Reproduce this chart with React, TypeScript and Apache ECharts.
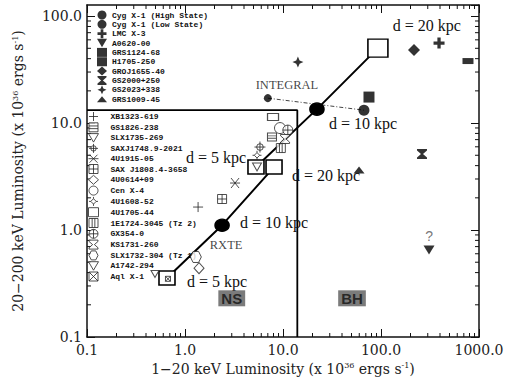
import React, { useEffect, useRef } from 'react';
import * as echarts from 'echarts';

// ---- Data ----
// Black-hole candidates (filled symbols)
const bhNames = ['Cyg X-1 (High State)', 'Cyg X-1 (Low State)', 'LMC X-3', 'A0620-00', 'GRS1124-68', 'H1705-250', 'GROJ1655-40', 'GS2000+250', 'GS2023+338', 'GRS1009-45'];
const bhLx = [67, 7.0, 391, 309, 772, 75.4, 217, 262, 14.2, 59.7];
const bhLy = [13.2, 17.1, 56, 0.65, 38, 17.5, 48.1, 5.13, 37.2, 3.64];
const uncertainSources = ['A0620-00'];

// Neutron stars (open symbols)
const nsNames = ['XB1323-619', 'GS1826-238', 'SLX1735-269', 'SAXJ1748.9-2021', '4U1915-05', 'SAX J1808.4-3658', '4U0614+09', 'Cen X-4', '4U1608-52', '4U1705-44', '1E1724-3045 (Tz 2)', 'GX354-0', 'KS1731-260', 'SLX1732-304 (Tz 1)', 'A1742-294', 'Aql X-1'];
const nsLx = [1.36, 7.72, 5.43, 5.82, 3.24, 2.39, 1.39, 9.32, 5.43, 7.91, 9.5, 11.2, 10.5, 1.29, 0.494, 0.67];
const nsLy = [1.64, 7.4, 3.88, 5.97, 2.75, 1.95, 0.44, 8.98, 5.0, 11.4, 5.84, 8.6, 7.1, 0.56, 0.388, 0.35];

// Distance tracks of the new source
const distances = ['d = 5 kpc', 'd = 10 kpc', 'd = 20 kpc'];
const instruments = ['RXTE', 'INTEGRAL'];
const rxteLx = [0.655, 2.39, 8.1];
const rxteLy = [0.356, 1.11, 3.88];
const integralLx = [5.3, 22.2, 93];
const integralLy = [3.88, 13.5, 50.2];

// Region boundary (NS / BH)
const boundaryLx = [0.1, 14, 14];
const boundaryLy = [13.2, 13.2, 0.1];
const regionNames = ['NS', 'BH'];
const regionLx = [3.0, 50.6];
const regionLy = [0.23, 0.23];

// Axes
const xMin = 0.1, xMax = 1000, yMin = 0.1, yMax = 127;
const xDecades = [0.1, 1, 10, 100];
const yDecades = [0.1, 1, 10];
const minorSteps = [2, 3, 4, 5, 6, 7, 8, 9];

// ---- Symbols (styling) ----
const P = {
  lmc: 'path://M7,0H13V7H20V13H13V20H7V13H0V7H7Z',
  triDown: 'path://M0,0L20,0L10,17Z',
  hourglass: 'path://M0,0H20V3L12,10L20,17V20H0V17L8,10L0,3Z',
  star4: 'path://M10,0L13,7L20,10L13,13L10,20L7,13L0,10L7,7Z',
  triUp: 'path://M0,12L10,0L20,12Z',
  plus: 'path://M10,0V20M0,10H20',
  boxH: 'path://M0,0H20V20H0ZM0,7H20M0,13H20',
  sun: 'path://M4,10A6,6 0 1 1 16,10A6,6 0 1 1 4,10ZM10,4V16M4,10H16M10,0V4M10,16V20M0,10H4M16,10H20',
  asterisk: 'path://M2,2L18,18M18,2L2,18M0,10H20',
  boxPlus: 'path://M0,0H20V20H0ZM10,0V20M0,10H20',
  diamondTick: 'path://M10,4L16,10L10,16L4,10ZM0,10H4M16,10H20M10,0V4M10,16V20',
  boxV: 'path://M0,0H20V20H0ZM7,0V20M13,0V20',
  circPlus: 'path://M0,10A10,10 0 1 1 20,10A10,10 0 1 1 0,10ZM0,10H20M10,0V20',
  hexagon: 'path://M5,0H15L20,10L15,20H5L0,10Z',
  boxX: 'path://M0,0H20V20H0ZM0,0L20,20M20,0L0,20',
};

const bhSym: { s: string; z: number | number[] }[] = [
  { s: 'circle', z: 11 },
  { s: 'circle', z: 8 },
  { s: P.lmc, z: 11 },
  { s: P.triDown, z: [11, 9] },
  { s: 'rect', z: [11, 6] },
  { s: 'rect', z: 11 },
  { s: 'diamond', z: [12, 12] },
  { s: P.hourglass, z: [10, 10] },
  { s: P.star4, z: 11 },
  { s: P.triUp, z: [11, 7] },
];
const nsSym: { s: string; z: number | number[] }[] = [
  { s: P.plus, z: 10 },
  { s: P.boxH, z: [9, 8] },
  { s: P.triDown, z: [9, 8] },
  { s: P.sun, z: 11 },
  { s: P.asterisk, z: 10 },
  { s: P.boxPlus, z: 9 },
  { s: 'diamond', z: [10, 11] },
  { s: 'circle', z: 11 },
  { s: P.diamondTick, z: 9 },
  { s: 'rect', z: [11, 7] },
  { s: P.boxV, z: 9 },
  { s: P.circPlus, z: 10 },
  { s: P.hourglass, z: 9 },
  { s: P.hexagon, z: 11 },
  { s: P.triDown, z: [8, 7] },
  { s: P.boxX, z: 5 },
];

const serif = 'DejaVu Serif';
const fmt = (v: number) => Number(v).toFixed(1);

export default function App() {
  const ref = useRef<HTMLDivElement>(null);
  useEffect(() => {
    if (!ref.current) return;
    const chart = echarts.init(ref.current, undefined, { renderer: 'svg' });

    const minorX: number[] = [];
    xDecades.forEach((d) => minorSteps.forEach((m) => minorX.push(+(d * m).toPrecision(3))));
    const minorY: number[] = [];
    yDecades.forEach((d) => minorSteps.forEach((m) => minorY.push(+(d * m).toPrecision(3))));

    const axisLine = { show: true, lineStyle: { color: '#111', width: 1.5 } };
    const axisTick = { show: true, inside: true, length: 8, lineStyle: { color: '#111', width: 1 } };
    const nameRich = {
      sup: { fontFamily: serif, fontSize: 8, verticalAlign: 'top', color: '#222' },
    };

    const labelFont = { fontFamily: 'Liberation Serif', fontSize: 16, color: '#111' };
    const distOffsetsRxte = [[50, 3], [52, -3], [52, 8]];
    const distOffsetsInt = [[-40, -10], [46, 14], [49, -23]];
    const trackSyms = [
      { symbol: 'rect', size: [16, 14], fill: '#fff' },
      { symbol: 'circle', size: [14, 12], fill: '#000' },
      { symbol: 'rect', size: [16, 14], fill: '#fff' },
    ];
    const bigSquare = [20, 18];

    const trackSeries = (name: string, xs: number[], ys: number[], offs: number[][], last: number[]) => ({
      type: 'line',
      name,
      z: 4,
      data: xs.map((x, i) => ({
        value: [x, ys[i]],
        symbol: trackSyms[i].symbol,
        symbolSize: i === 2 ? last : trackSyms[i].size,
        itemStyle: { color: trackSyms[i].fill, borderColor: '#000', borderWidth: 1.5 },
        label: { show: true, position: 'inside', offset: offs[i], formatter: distances[i], ...labelFont },
      })),
      lineStyle: { color: '#000', width: 2 },
      silent: true,
    });

    const series: any[] = [
      {
        type: 'custom',
        name: 'minor ticks',
        silent: true,
        clip: false,
        z: 1,
        data: [[1, 1]],
        renderItem: (params: any, api: any) => {
          const cs = params.coordSys;
          const top = cs.y, bottom = cs.y + cs.height, left = cs.x, right = cs.x + cs.width;
          const L = 4;
          const st = { stroke: '#111', lineWidth: 1 };
          const children: any[] = [];
          minorX.forEach((v) => {
            const px = api.coord([v, 1])[0];
            children.push({ type: 'line', shape: { x1: px, y1: bottom, x2: px, y2: bottom - L }, style: st });
            children.push({ type: 'line', shape: { x1: px, y1: top, x2: px, y2: top + L }, style: st });
          });
          minorY.forEach((v) => {
            const py = api.coord([1, v])[1];
            children.push({ type: 'line', shape: { x1: left, y1: py, x2: left + L, y2: py }, style: st });
            children.push({ type: 'line', shape: { x1: right, y1: py, x2: right - L, y2: py }, style: st });
          });
          return { type: 'group', children };
        },
      },
      {
        type: 'line',
        name: 'boundary',
        z: 2,
        silent: true,
        symbol: 'none',
        data: boundaryLx.map((x, i) => [x, boundaryLy[i]]),
        lineStyle: { color: '#000', width: 1.8 },
      },
      {
        type: 'line',
        name: 'Cyg X-1 track',
        z: 2,
        silent: true,
        symbol: 'none',
        data: [[bhLx[1], bhLy[1]], [bhLx[0], bhLy[0]]],
        lineStyle: { color: '#444', width: 1, type: [4, 2, 1, 2] },
      },
      trackSeries('RXTE track', rxteLx, rxteLy, distOffsetsRxte, [16, 14]),
      trackSeries('INTEGRAL track', integralLx, integralLy, distOffsetsInt, bigSquare),
      {
        type: 'scatter',
        name: 'instrument labels',
        z: 6,
        silent: true,
        symbolSize: 0,
        data: [
          { value: [rxteLx[1], rxteLy[1]], label: { offset: [4, 20], formatter: instruments[0] } },
          { value: [integralLx[1], integralLy[1]], label: { offset: [-30, -24], formatter: instruments[1] } },
        ],
        label: { show: true, position: 'inside', fontFamily: 'Liberation Serif', fontSize: 12.5, color: '#111' },
      },
      {
        type: 'scatter',
        name: 'regions',
        z: 6,
        silent: true,
        symbolSize: 0,
        data: regionNames.map((n, i) => ({ value: [regionLx[i], regionLy[i]], name: n })),
        label: {
          show: true,
          position: 'inside',
          formatter: (p: any) => p.name,
          fontFamily: 'Liberation Sans',
          fontWeight: 'bold',
          fontSize: 15,
          color: '#111',
          backgroundColor: '#5a5a5a',
          padding: [1, 3, 0, 3],
        },
      },
    ];

    bhNames.forEach((n, i) => {
      const q = uncertainSources.includes(n);
      series.push({
        type: 'scatter',
        name: n,
        z: 5,
        symbol: bhSym[i].s,
        symbolSize: bhSym[i].z,
        itemStyle: { color: '#000', borderColor: '#000', borderWidth: 0 },
        data: [[bhLx[i], bhLy[i]]],
        label: q
          ? { show: true, position: 'top', distance: 3, formatter: '?', fontFamily: 'Liberation Sans', fontSize: 14, color: '#555' }
          : { show: false },
      });
    });
    nsNames.forEach((n, i) => {
      series.push({
        type: 'scatter',
        name: n,
        z: 6,
        symbol: nsSym[i].s,
        symbolSize: nsSym[i].z,
        itemStyle: { color: '#fff', borderColor: '#222', borderWidth: 1 },
        data: [[nsLx[i], nsLy[i]]],
      });
    });

    const legendText = { fontFamily: 'Liberation Mono', fontSize: 8, fontWeight: 'bold', color: '#111', lineHeight: 9 };

    chart.setOption({
      animation: false,
      backgroundColor: '#fff',
      grid: { left: 87, right: 28, top: 5, bottom: 44, containLabel: false },
      legend: [
        {
          data: bhNames,
          orient: 'vertical',
          left: 97,
          top: 10.5,
          padding: 0,
          itemWidth: 10,
          itemHeight: 9,
          itemGap: 0.35,
          selectedMode: false,
          textStyle: legendText,
          itemStyle: { borderWidth: 0 },
        },
        {
          data: nsNames,
          orient: 'vertical',
          left: 88,
          top: 111.5,
          padding: 0,
          itemWidth: 10,
          itemHeight: 9,
          itemGap: 0.8,
          selectedMode: false,
          textStyle: { ...legendText, padding: [0, 0, 0, 7] },
          itemStyle: { borderWidth: 1, borderColor: '#222' },
        },
      ],
      xAxis: [
        {
          type: 'log',
          logBase: 10,
          min: xMin,
          max: xMax,
          position: 'bottom',
          name: '1−20 keV Luminosity (x 10{sup|36} ergs s{sup|-1})',
          nameLocation: 'middle',
          nameGap: 21,
          nameTextStyle: { fontFamily: serif, fontSize: 14, color: '#222', rich: nameRich },
          axisLine,
          axisTick,
          axisLabel: { formatter: fmt, margin: 6, fontFamily: serif, fontSize: 14, color: '#222' },
          splitLine: { show: false },
        },
        {
          type: 'log',
          logBase: 10,
          min: xMin,
          max: xMax,
          position: 'top',
          axisLine,
          axisTick,
          axisLabel: { show: false },
          splitLine: { show: false },
        },
      ],
      yAxis: [
        {
          type: 'log',
          logBase: 10,
          min: yMin,
          max: yMax,
          position: 'left',
          name: '20−200 keV Luminosity (x 10{sup|36} ergs s{sup|-1})',
          nameLocation: 'middle',
          nameGap: 62,
          nameTextStyle: { fontFamily: serif, fontSize: 14, color: '#222', rich: nameRich },
          axisLine,
          axisTick,
          axisLabel: { formatter: fmt, margin: 5, fontFamily: serif, fontSize: 14, color: '#222', showMaxLabel: false },
          splitLine: { show: false },
        },
        {
          type: 'log',
          logBase: 10,
          min: yMin,
          max: yMax,
          position: 'right',
          axisLine,
          axisTick,
          axisLabel: { show: false },
          splitLine: { show: false },
        },
      ],
      series,
    });

    return () => chart.dispose();
  }, []);

  return <div ref={ref} style={{ width: 507, height: 381, position: 'absolute', left: 0, top: 0 }} />;
}
